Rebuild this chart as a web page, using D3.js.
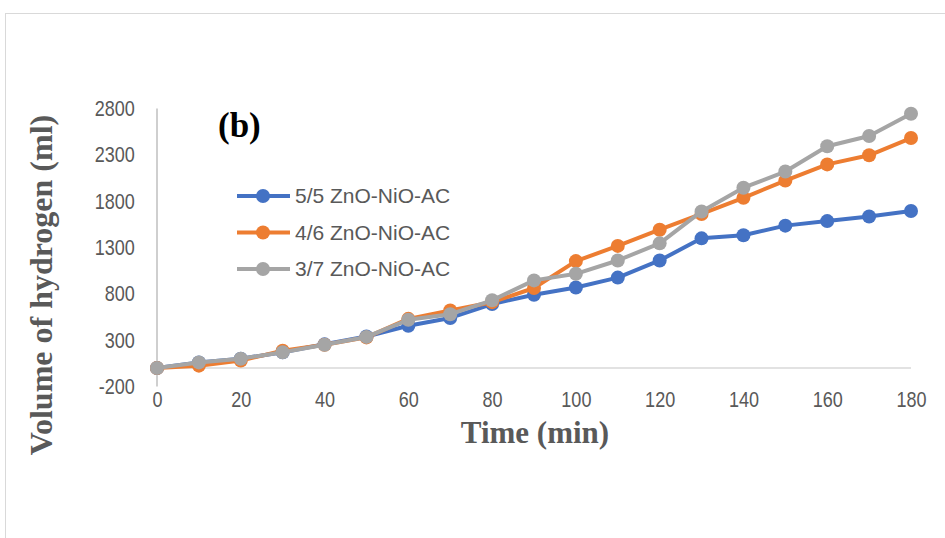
<!DOCTYPE html>
<html>
<head>
<meta charset="utf-8">
<script src="https://cdn.jsdelivr.net/npm/d3@7"></script>
<style>
  body { margin: 0; background: #fff; }
  svg { display: block; }
</style>
</head>
<body>
<svg id="chart" width="945" height="538"></svg>
<script>
const times = [0, 10, 20, 30, 40, 50, 60, 70, 80, 90, 100, 110, 120, 130, 140, 150, 160, 170, 180];
const s55 = [0, 60, 100, 170, 255, 340, 455, 540, 690, 790, 869, 975, 1160, 1399, 1432, 1536, 1585, 1634, 1694];
const s46 = [0, 25, 80, 185, 250, 330, 530, 620, 710, 863, 1153, 1317, 1492, 1662, 1836, 2022, 2197, 2295, 2481];
const s37 = [0, 60, 100, 170, 250, 335, 520, 580, 730, 945, 1016, 1160, 1345, 1689, 1945, 2120, 2393, 2503, 2743];
const seriesNames = ['5/5 ZnO-NiO-AC', '4/6 ZnO-NiO-AC', '3/7 ZnO-NiO-AC'];
const seriesColors = ['#4472C4', '#ED7D31', '#A5A5A5'];
const xTicks = [0, 20, 40, 60, 80, 100, 120, 140, 160, 180];
const yTicks = [-200, 300, 800, 1300, 1800, 2300, 2800];

const svg = d3.select('#chart');
const TICK_COLOR = '#595959';
const AXIS_COLOR = '#BFBFBF';

// chart frame
svg.append('rect')
  .attr('x', 5.5).attr('y', 13.5)
  .attr('width', 980).attr('height', 560)
  .attr('fill', 'none')
  .attr('stroke', '#D9D9D9')
  .attr('stroke-width', 1);

const x = d3.scaleLinear().domain([0, 180]).range([157, 911]);
const y = d3.scaleLinear().domain([-200, 2800]).range([386.5, 108.5]);

// axis lines
svg.append('line')
  .attr('x1', x(0)).attr('x2', x(0))
  .attr('y1', y(2800)).attr('y2', y(-200))
  .attr('stroke', AXIS_COLOR).attr('stroke-width', 1.5);
svg.append('line')
  .attr('x1', x(0)).attr('x2', x(180))
  .attr('y1', y(0)).attr('y2', y(0))
  .attr('stroke', '#D9D9D9').attr('stroke-width', 1.5);

// tick labels (plain hyphen, no thousands separator)
const fmt = d => String(d);

const xAxis = svg.append('g')
  .attr('transform', `translate(0, ${y(-200)})`)
  .call(d3.axisBottom(x).tickValues(xTicks).tickFormat(fmt).tickSize(0).tickPadding(5));
xAxis.select('.domain').remove();
xAxis.selectAll('text')
  .attr('fill', TICK_COLOR)
  .attr('font-family', 'Liberation Sans')
  .attr('font-size', '22px')
  .attr('transform', 'scale(0.82,1)');

const yAxis = svg.append('g')
  .attr('transform', `translate(${x(0)}, 0)`)
  .call(d3.axisLeft(y).tickValues(yTicks).tickFormat(fmt).tickSize(0).tickPadding(27));
yAxis.select('.domain').remove();
yAxis.selectAll('text')
  .attr('fill', TICK_COLOR)
  .attr('font-family', 'Liberation Sans')
  .attr('font-size', '22px')
  .attr('transform', 'scale(0.82,1)');

// axis titles
svg.append('text')
  .attr('x', 535).attr('y', 443)
  .attr('text-anchor', 'middle')
  .attr('font-family', 'Liberation Serif')
  .attr('font-weight', 'bold')
  .attr('font-size', '31px')
  .attr('fill', TICK_COLOR)
  .text('Time (min)');

svg.append('text')
  .attr('transform', 'translate(52, 285) rotate(-90)')
  .attr('text-anchor', 'middle')
  .attr('font-family', 'Liberation Serif')
  .attr('font-weight', 'bold')
  .attr('font-size', '32px')
  .attr('fill', TICK_COLOR)
  .text('Volume of hydrogen (ml)');

svg.append('text')
  .attr('x', 218).attr('y', 137)
  .attr('font-family', 'Liberation Serif')
  .attr('font-weight', 'bold')
  .attr('font-size', '35px')
  .attr('fill', '#000')
  .text('(b)');

// series
const allSeries = [s55, s46, s37];
const line = d3.line().x((d, i) => x(times[i])).y(d => y(d));
const plot = svg.append('g');
allSeries.forEach((vals, k) => {
  const g = plot.append('g');
  g.append('path')
    .datum(vals)
    .attr('d', line)
    .attr('fill', 'none')
    .attr('stroke', seriesColors[k])
    .attr('stroke-width', 4)
    .attr('stroke-linejoin', 'round');
  g.selectAll('circle')
    .data(vals)
    .join('circle')
    .attr('cx', (d, i) => x(times[i]))
    .attr('cy', d => y(d))
    .attr('r', 7)
    .attr('fill', seriesColors[k]);
});

// legend
const legend = svg.append('g');
seriesNames.forEach((name, k) => {
  const ly = 196 + k * 36.5;
  legend.append('line')
    .attr('x1', 237).attr('x2', 290)
    .attr('y1', ly).attr('y2', ly)
    .attr('stroke', seriesColors[k])
    .attr('stroke-width', 4);
  legend.append('circle')
    .attr('cx', 263).attr('cy', ly).attr('r', 7)
    .attr('fill', seriesColors[k]);
  legend.append('text')
    .attr('x', 295).attr('y', ly)
    .attr('dy', '0.35em')
    .attr('font-family', 'Liberation Sans')
    .attr('font-size', '21px')
    .attr('fill', TICK_COLOR)
    .text(name);
});
</script>
</body>
</html>
